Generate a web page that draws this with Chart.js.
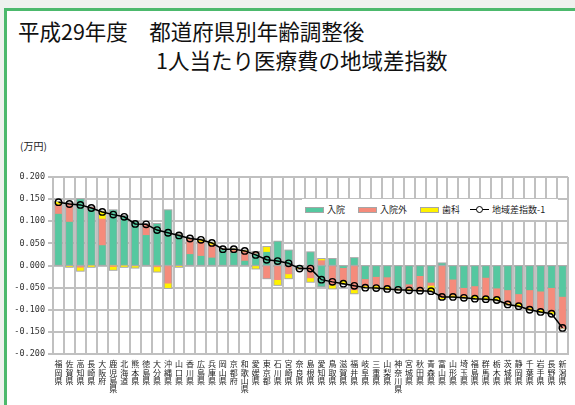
<!DOCTYPE html>
<html lang="ja">
<head>
<meta charset="utf-8">
<script src="https://cdn.jsdelivr.net/npm/chart.js@4/dist/chart.umd.min.js"></script>
<style>
  body { margin: 0; width: 575px; height: 405px; overflow: hidden; background: #eef2ee; font-family: "Noto Sans CJK JP", sans-serif; }
  .frame { position: absolute; left: 4px; top: 8px; width: 600px; height: 420px; background: #fff;
           border-left: 3px solid #4cb96c; border-top: 3px solid #4cb96c; }
  .title { position: absolute; font-size: 21.5px; color: #111; white-space: pre; line-height: 1; }
  .unit { position: absolute; left: 20px; top: 138px; font-size: 10px; color: #222; }
  #wrap { position: absolute; left: 0; top: 0; width: 575px; height: 405px; }
  .legend { position: absolute; left: 302px; top: 199px; width: 256px; height: 21px; background: #fff;
            font-size: 9px; color: #222; display: flex; align-items: center; }
  .legend .sw { display: inline-block; width: 17px; height: 4px; border: 1px solid #a6a6a6; margin: 0 3px 0 3px; }
  .legend .it { display: flex; align-items: center; margin-right: 10px; }
  .legend .ln { position: relative; width: 19px; height: 10px; margin: 0 3px 0 0; }
  .legend .ln::before { content: ""; position: absolute; left: 0; right: 0; top: 4px; border-top: 1.5px solid #000; }
  .legend .ln::after { content: ""; position: absolute; left: 6px; top: 1px; width: 5px; height: 5px; border: 1.5px solid #000; border-radius: 50%; background: #fff; }
</style>
</head>
<body>
<div class="frame"></div>
<div class="title" style="left:18px; top:20px;">平成29年度　都道府県別年齢調整後</div>
<div class="title" style="left:156px; top:49px;">1人当たり医療費の地域差指数</div>
<div class="unit">(万円)</div>
<div id="wrap"><canvas id="chart" width="575" height="405"></canvas></div>
<div class="legend">
  <span class="it"><span class="sw" style="background:#55c8a0"></span>入院</span>
  <span class="it"><span class="sw" style="background:#f58b7b"></span>入院外</span>
  <span class="it"><span class="sw" style="background:#fff200"></span>歯科</span>
  <span class="it"><span class="ln"></span>地域差指数-1</span>
</div>
<script>
// 都道府県（地域差指数の高い順）
const prefectures = [
  "福岡県", "佐賀県", "高知県", "長崎県", "大阪府", "鹿児島県", "北海道", "熊本県",
  "徳島県", "大分県", "沖縄県", "山口県", "香川県", "広島県", "兵庫県", "岡山県",
  "京都府", "和歌山県", "愛媛県", "東京都", "石川県", "宮崎県", "奈良県", "島根県",
  "愛知県", "鳥取県", "滋賀県", "福井県", "岐阜県", "三重県", "山梨県", "神奈川県",
  "宮城県", "秋田県", "青森県", "富山県", "山形県", "埼玉県", "福島県", "群馬県",
  "栃木県", "茨城県", "静岡県", "千葉県", "岩手県", "長野県", "新潟県",
];

// 寄与度（万円）
const inpatient = [
  0.116, 0.098, 0.149, 0.128, 0.045, 0.124, 0.111, 0.098,
  0.068, 0.093, 0.124, 0.069, 0.025, 0.021, 0.017, 0.036,
  0.029, 0.010, 0.026, 0.030, 0.053, 0.033, -0.003, 0.029,
  -0.046, 0.014, -0.005, 0.016, -0.030, -0.025, -0.026, -0.051,
  -0.042, -0.023, -0.038, 0.004, -0.031, -0.050, -0.046, -0.027,
  -0.051, -0.055, -0.064, -0.055, -0.058, -0.050, -0.070,
];
const outpatient = [
  0.021, 0.042, -0.004, 0.003, 0.060, -0.001, 0.000, 0.000,
  0.025, -0.003, -0.040, 0.001, 0.034, 0.032, 0.029, 0.001,
  0.005, 0.021, 0.004, -0.028, -0.032, -0.019, -0.002, -0.028,
  0.011, -0.044, -0.029, -0.055, -0.016, -0.021, -0.022, -0.003,
  -0.010, -0.031, -0.007, -0.072, -0.036, -0.019, -0.022, -0.043,
  -0.020, -0.030, -0.021, -0.041, -0.042, -0.054, -0.071,
];
const dental = [
  0.006, -0.002, -0.007, -0.001, 0.016, -0.008, -0.001, -0.004,
  0.000, -0.010, -0.010, -0.002, 0.002, 0.005, 0.005, 0.000,
  0.003, 0.002, -0.006, 0.011, -0.011, -0.009, -0.002, -0.008,
  0.003, -0.007, -0.007, -0.007, -0.004, -0.005, -0.005, -0.001,
  -0.004, -0.003, -0.013, -0.003, -0.004, -0.004, -0.007, -0.006,
  -0.007, -0.003, -0.007, -0.004, -0.005, -0.005, 0.000,
];
// 地域差指数-1
const indexMinus1 = [
  0.143, 0.139, 0.137, 0.130, 0.121, 0.115, 0.110, 0.094,
  0.093, 0.080, 0.074, 0.068, 0.061, 0.058, 0.051, 0.037,
  0.037, 0.033, 0.024, 0.013, 0.010, 0.005, -0.007, -0.007,
  -0.032, -0.037, -0.041, -0.046, -0.050, -0.051, -0.053, -0.055,
  -0.056, -0.057, -0.058, -0.071, -0.071, -0.073, -0.075, -0.076,
  -0.078, -0.088, -0.092, -0.100, -0.105, -0.109, -0.141,
];

const yTicksMin = -0.2;
const yTicksMax = 0.2;
const yStep = 0.05;

const gridColor = "#c0c0c0";

// gray outline around each stacked column
const stackOutline = {
  id: "stackOutline",
  beforeDatasetsDraw(chart) {
    const ctx = chart.ctx;
    const metas = [0, 1, 2].map((i) => chart.getDatasetMeta(i));
    ctx.save();
    ctx.fillStyle = "#a9a9a9";
    prefectures.forEach((_, i) => {
      let top = Infinity, bottom = -Infinity, x = 0, w = 0;
      metas.forEach((m) => {
        const p = m.data[i].getProps(["x", "y", "base", "width"], true);
        top = Math.min(top, p.y, p.base);
        bottom = Math.max(bottom, p.y, p.base);
        x = p.x;
        w = p.width;
      });
      const pad = 1.3;
      ctx.fillRect(x - w / 2 - pad, top - pad, w + pad * 2, bottom - top + pad * 2);
    });
    ctx.restore();
  },
};

const barCommon = { type: "bar", stack: "cost", order: 1, barThickness: 6, borderWidth: 0 };

new Chart(document.getElementById("chart"), {
  data: {
    labels: prefectures.map((p) => p.split("")),
    datasets: [
      { ...barCommon, label: "入院", data: inpatient, backgroundColor: "#55c8a0" },
      { ...barCommon, label: "入院外", data: outpatient, backgroundColor: "#f58b7b" },
      { ...barCommon, label: "歯科", data: dental, backgroundColor: "#fff200" },
      {
        type: "line",
        label: "地域差指数-1",
        data: indexMinus1,
        stack: "index",
        order: 0,
        borderColor: "#000",
        borderWidth: 1.5,
        pointRadius: 3.2,
        pointBorderWidth: 1.4,
        pointBorderColor: "#000",
        pointBackgroundColor: "rgba(0,0,0,0)",
        tension: 0,
      },
    ],
  },
  options: {
    responsive: false,
    animation: false,
    layout: { padding: { top: 177, right: 7, left: 0, bottom: 0 } },
    plugins: { legend: { display: false }, tooltip: { enabled: false } },
    scales: {
      x: {
        stacked: true,
        grid: { color: gridColor, lineWidth: 2, drawTicks: false },
        border: { color: gridColor, width: 2 },
        ticks: {
          autoSkip: false,
          maxRotation: 0,
          padding: 6,
          color: "#222",
          font: { family: "Noto Sans CJK JP", size: 8, lineHeight: 1.05 },
        },
        afterFit(scale) { scale.height = 51; },
      },
      y: {
        stacked: true,
        min: yTicksMin,
        max: yTicksMax,
        grid: { color: gridColor, lineWidth: 2, tickLength: 5 },
        border: { color: gridColor, width: 2 },
        ticks: {
          stepSize: yStep,
          padding: 3,
          color: "#333",
          font: { family: "DejaVu Sans Mono", size: 8.5 },
          callback: (v) => v.toFixed(3),
        },
        afterFit(scale) { scale.width = 53; },
      },
    },
  },
  plugins: [stackOutline],
});
</script>
</body>
</html>
